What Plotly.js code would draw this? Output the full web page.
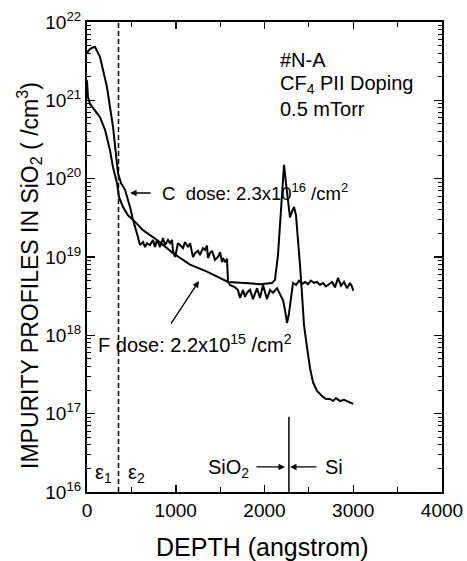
<!DOCTYPE html>
<html>
<head>
<meta charset="utf-8">
<script src="https://cdn.plot.ly/plotly-3.0.1.min.js"></script>
<style>
  html, body { margin: 0; padding: 0; background: #ffffff; }
  #chart { width: 467px; height: 561px; }
</style>
</head>
<body>
<div id="chart"></div>
<script>
// ---- data (depth in angstrom, concentration in /cm^3) ----
const cDepth = [0, 23, 56, 90, 146, 225, 293, 349, 383, 428, 485, 518, 563, 597,
  631, 654, 676, 710, 744, 766, 789, 823, 856, 879, 913, 935, 958, 969, 992, 1025,
  1048, 1082, 1104, 1138, 1161, 1194, 1217, 1251, 1273, 1307, 1330, 1352, 1363, 1386,
  1409, 1442, 1476, 1499, 1521, 1532, 1555, 1578, 1589, 1611, 1668, 1701, 1724, 1758,
  1780, 1803, 1837, 1870, 1916, 1949, 1983, 2028, 2062, 2096, 2141, 2175, 2209, 2231,
  2254, 2276, 2299, 2321, 2355, 2389, 2423, 2456, 2490, 2524, 2558, 2592, 2625, 2659,
  2693, 2727, 2761, 2794, 2828, 2862, 2896, 2930, 2963, 2986, 3000];
const cConc = [4.0e21, 4.4e21, 4.7e21, 4.8e21, 3.6e21, 1.48e21, 4.6e20, 1.18e20, 8.8e19, 7.2e19, 4.35e19, 3.0e19, 2.0e19, 1.42e19,
  1.55e19, 1.34e19, 1.5e19, 1.42e19, 1.65e19, 1.34e19, 1.65e19, 1.34e19, 1.75e19, 1.42e19, 1.65e19, 1.5e19, 1.65e19, 1.2e19, 1.0e19, 1.5e19,
  1.42e19, 1.3e19, 1.55e19, 1.34e19, 1.5e19, 1.0e19, 1.12e19, 1.2e19, 1.06e19, 1.3e19, 1.23e19, 1.4e19, 9.7e18, 1.12e19,
  1.2e19, 9.2e18, 1.0e19, 1.15e19, 8.6e18, 9.7e18, 8.6e18, 9.5e18, 4.8e18, 4.4e18, 4.1e18, 3.8e18, 3.0e18, 3.8e18,
  3.1e18, 3.5e18, 3.8e18, 2.9e18, 4.0e18, 3.0e18, 4.4e18, 2.9e18, 3.8e18, 3.5e18, 4.0e18, 3.3e18, 2.8e18, 2.1e18,
  1.44e18, 1.9e18, 3.3e18, 4.66e18, 4.4e18, 5.0e18, 4.5e18, 4.8e18, 4.5e18, 5.0e18, 4.66e18, 4.8e18, 4.4e18, 4.66e18,
  4.2e18, 4.5e18, 4.8e18, 4.1e18, 5.4e18, 4.3e18, 4.8e18, 4.0e18, 4.66e18, 4.2e18, 3.7e18];

const fDepth = [0, 11, 34, 90, 146, 203, 259, 293, 338, 361, 406, 462, 518, 631, 789, 969, 1161, 1352,
  1589, 1780, 1949, 2085, 2118, 2152, 2175, 2197, 2220, 2242, 2265, 2287, 2310, 2333, 2355, 2366,
  2400, 2423, 2445, 2479, 2513, 2547, 2592, 2648, 2693, 2738, 2772, 2806, 2851, 2896, 2930, 2963, 3000];
const fConc = [1.8e21, 1.1e21, 9.0e20, 7.5e20, 6.1e20, 4.2e20, 2.3e20, 1.4e20, 8.8e19, 5.8e19, 4.35e19, 3.4e19, 3.0e19, 2.2e19, 1.65e19, 1.12e19, 8.0e18, 6.5e18,
  4.8e18, 4.66e18, 4.5e18, 4.66e18, 5.1e18, 1.06e19, 2.56e19, 6.2e19, 1.5e20, 8.8e19, 5.3e19, 3.2e19, 3.8e19, 4.35e19, 3.4e19, 2.2e19,
  7.9e18, 3.3e18, 1.36e18, 7.0e17, 3.8e17, 2.5e17, 1.95e17, 1.68e17, 1.54e17, 1.54e17, 1.45e17, 1.58e17, 1.45e17, 1.5e17, 1.45e17, 1.4e17, 1.33e17];

const xTickVals = [0, 1000, 2000, 3000, 4000];
const xTickText = ['0', '1000', '2000', '3000', '4000'];
const xMinorVals = [500, 1500, 2500, 3500];
const yTickVals = [1e16, 1e17, 1e18, 1e19, 1e20, 1e21, 1e22];
const yTickText = ['10<sup>16</sup>', '10<sup>17</sup>', '10<sup>18</sup>', '10<sup>19</sup>', '10<sup>20</sup>', '10<sup>21</sup>', '10<sup>22</sup>'];

const FONT = 'Liberation Sans, Arial, Helvetica, sans-serif';

const traces = [
  { x: cDepth, y: cConc, type: 'scatter', mode: 'lines', name: 'C',
    line: { color: '#000', width: 2 }, showlegend: false, hoverinfo: 'skip' },
  { x: fDepth, y: fConc, type: 'scatter', mode: 'lines', name: 'F',
    line: { color: '#000', width: 2 }, showlegend: false, hoverinfo: 'skip' }
];

const txt = (x, y, text, anchor, size) => ({
  x: x, y: y, xref: 'x', yref: 'y', text: text, showarrow: false,
  xanchor: anchor, yanchor: 'middle', font: { family: FONT, size: size, color: '#000' }
});
const arrow = (x, y, ax, ay) => ({
  x: x, y: y, xref: 'x', yref: 'y', text: '', showarrow: true,
  ax: ax, ay: ay, axref: 'pixel', ayref: 'pixel',
  arrowhead: 2, arrowsize: 1, arrowwidth: 1.3, arrowcolor: '#000', standoff: 0, startstandoff: 0
});

const layout = {
  width: 467, height: 561,
  margin: { l: 87, r: 25, t: 22, b: 69, pad: 0 },
  paper_bgcolor: '#fff', plot_bgcolor: '#fff',
  font: { family: FONT, size: 19, color: '#000' },
  showlegend: false,
  xaxis: {
    range: [0, 4000], tickmode: 'array', tickvals: xTickVals, ticktext: xTickText,
    ticks: 'inside', ticklen: 7, tickwidth: 1.5, tickcolor: '#000',
    showline: true, linecolor: '#000', linewidth: 2, mirror: 'ticks',
    showgrid: false, zeroline: false,
    tickfont: { family: FONT, size: 19, color: '#000' },
    minor: { tickmode: 'array', tickvals: xMinorVals, ticks: 'inside', ticklen: 5, tickwidth: 1.2, tickcolor: '#000', showgrid: false }
  },
  yaxis: {
    type: 'log', range: [16, 22], tickmode: 'array', tickvals: yTickVals, ticktext: yTickText,
    ticks: 'inside', ticklen: 8, tickwidth: 1.5, tickcolor: '#000',
    showline: true, linecolor: '#000', linewidth: 2, mirror: 'ticks',
    showgrid: false, zeroline: false,
    tickfont: { family: FONT, size: 19, color: '#000' },
    minor: { dtick: 'D1', ticks: 'inside', ticklen: 4, tickwidth: 1, tickcolor: '#000', showgrid: false }
  },
  shapes: [
    { type: 'line', xref: 'x', yref: 'paper', x0: 355, x1: 355, y0: 0, y1: 1,
      line: { color: '#000', width: 1.5, dash: '5px,3px' } },
    { type: 'line', xref: 'x', yref: 'paper', x0: 2275, x1: 2275, y0: 0, y1: 0.16,
      line: { color: '#000', width: 1.5 } }
  ],
  annotations: [
    txt(2152, 21.515, '#N-A', 'left', 20),
    txt(2152, 21.20, 'CF<sub>4</sub> PII Doping', 'left', 20),
    txt(2152, 20.89, '0.5 mTorr', 'left', 20),
    txt(823, 19.83, 'C  dose: 2.3x10<sup>16</sup> /cm<sup>2</sup>', 'left', 18.5),
    arrow(485, 19.817, 22, 0),
    txt(101, 17.89, 'F dose: 2.2x10<sup>15</sup> /cm<sup>2</sup>', 'left', 20),
    arrow(1262, 18.693, -29, 44),
    txt(191, 16.24, 'ε<sub>1</sub>', 'center', 20),
    txt(563, 16.24, 'ε<sub>2</sub>', 'center', 20),
    txt(1848, 16.30, 'SiO<sub>2</sub>', 'right', 20),
    txt(2659, 16.32, 'Si', 'left', 20),
    arrow(2231, 16.32, -30, 0),
    arrow(2287, 16.32, 28, 0),
    { xref: 'paper', yref: 'paper', x: -0.1634, y: 0.4617, text: 'IMPURITY PROFILES IN SiO<sub>2</sub> ( /cm<sup>3</sup>)',
      textangle: -90, showarrow: false, xanchor: 'center', yanchor: 'middle',
      font: { family: FONT, size: 23, color: '#000' } },
    { xref: 'paper', yref: 'paper', x: 0.493, y: -0.117, text: 'DEPTH (angstrom)',
      showarrow: false, xanchor: 'center', yanchor: 'middle',
      font: { family: FONT, size: 25, color: '#000' } }
  ]
};

Plotly.newPlot('chart', traces, layout, { staticPlot: true, displayModeBar: false });
</script>
</body>
</html>
